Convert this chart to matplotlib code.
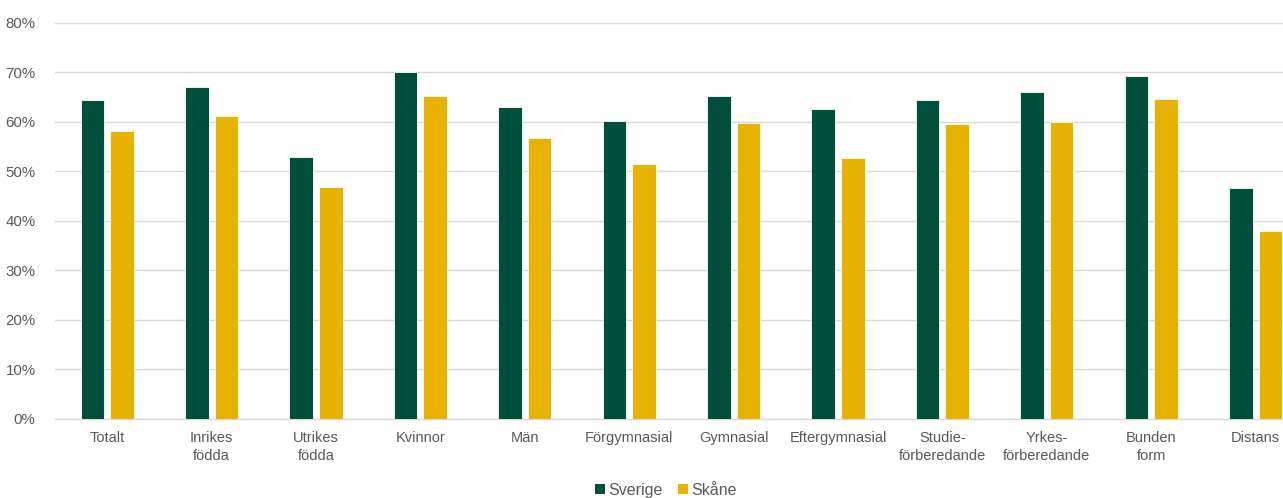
import matplotlib
matplotlib.use("Agg")
import matplotlib.pyplot as plt
import numpy as np
from matplotlib.ticker import FuncFormatter
from matplotlib.patches import Patch

categories = ["Totalt", "Inrikes\nfödda", "Utrikes\nfödda", "Kvinnor", "Män", "Förgymnasial",
              "Gymnasial", "Eftergymnasial", "Studie-\nförberedande", "Yrkes-\nförberedande",
              "Bunden\nform", "Distans"]
sverige = [64.5, 67.0, 52.9, 70.1, 63.0, 60.1, 65.3, 62.6, 64.4, 66.1, 69.3, 46.6]
skane = [58.2, 61.1, 46.9, 65.2, 56.7, 51.5, 59.8, 52.7, 59.6, 60.0, 64.6, 38.0]
series_names = ["Sverige", "Skåne"]

GREEN = "#004F3D"
YELLOW = "#E8B200"
TEXT = "#595959"

plt.rcParams['font.family'] = ['Liberation Sans', 'DejaVu Sans']

W, H = 1283, 498
fig = plt.figure(figsize=(W / 100, H / 100), dpi=100)
left = 55 / W
right_px = 55 + 12 * 104.4
bottom = (H - 418.5) / H
top = (H - 23) / H
ax = fig.add_axes([left, bottom, (right_px - 55) / W, top - bottom])

x = np.arange(len(categories))
bw = 0.227
off = 0.142
ax.bar(x - off, sverige, width=bw, color=GREEN, edgecolor="#ffffff", linewidth=0.6, zorder=3)
ax.bar(x + off, skane, width=bw, color=YELLOW, edgecolor="#ffffff", linewidth=0.6, zorder=3)

ax.set_xlim(-0.5, len(categories) - 0.5)
ax.set_ylim(0, 80)
ax.set_yticks(np.arange(0, 81, 10))
ax.yaxis.set_major_formatter(FuncFormatter(lambda v, p: f"{int(v)}%"))
ax.grid(axis="y", color="#D9D9D9", linewidth=1.0, zorder=0)
ax.set_axisbelow(True)
for s in ["top", "right", "left"]:
    ax.spines[s].set_visible(False)
ax.spines["bottom"].set_color("#D9D9D9")
ax.spines["bottom"].set_linewidth(1.0)

ax.set_xticks(x)
ax.set_xticklabels(categories, fontsize=10.5, color=TEXT, linespacing=1.35)
ax.tick_params(axis="x", length=0, pad=9)
ax.tick_params(axis="y", length=0, pad=14, labelsize=10.8, labelcolor=TEXT)

handles = [Patch(facecolor=GREEN, label=series_names[0]),
           Patch(facecolor=YELLOW, label=series_names[1])]
fig.legend(handles=handles, loc="center", bbox_to_anchor=(666 / W, (H - 490) / H), ncol=2,
           frameon=False, fontsize=11.5, labelcolor=TEXT, handlelength=0.62, handleheight=0.62,
           handletextpad=0.2, columnspacing=1.0)

fig.savefig("out.png", dpi=100)
